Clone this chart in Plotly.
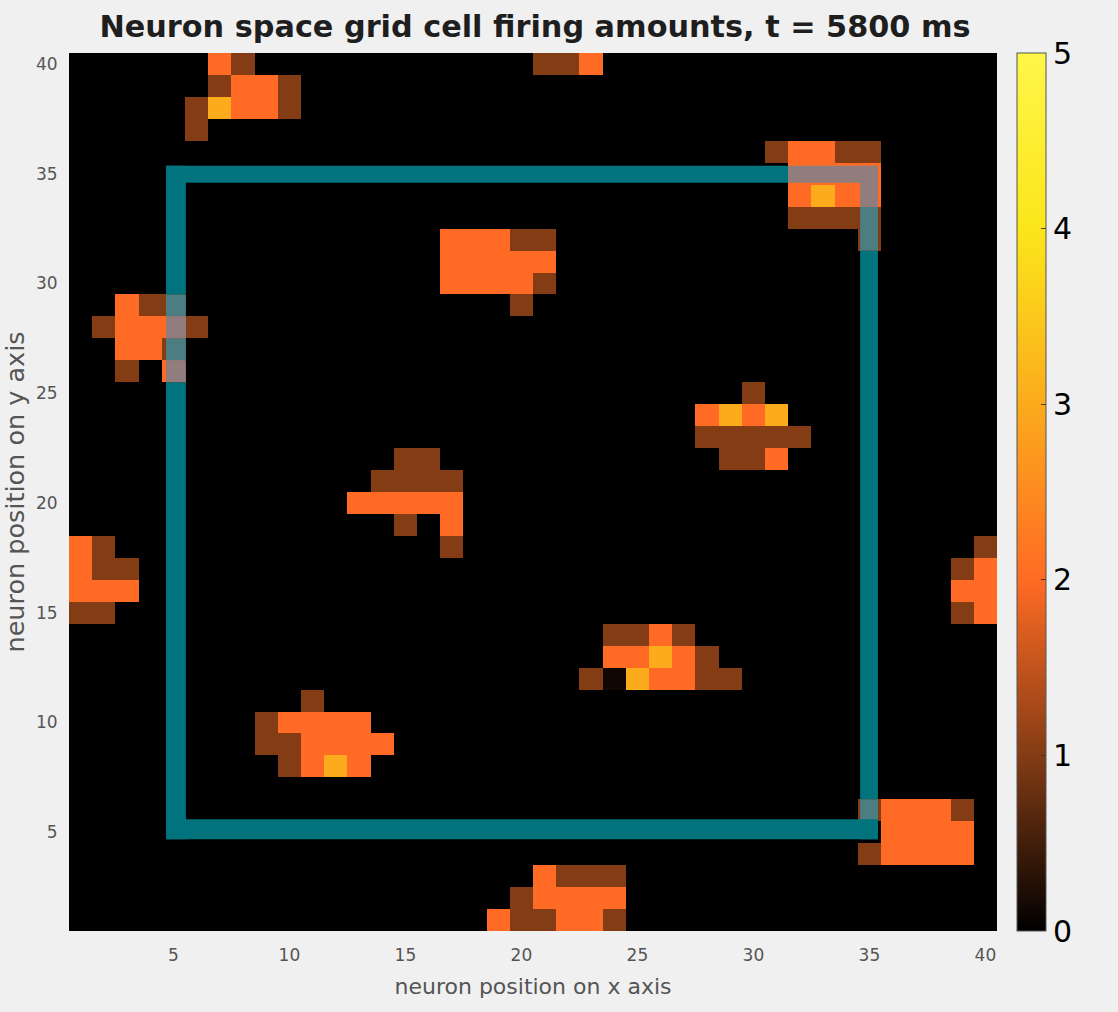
import numpy as np
import plotly.graph_objects as go

GRID_SIZE = 40
TITLE = "Neuron space grid cell firing amounts, t = 5800 ms"
X_TITLE = "neuron position on x axis"
Y_TITLE = "neuron position on y axis"
AXIS_TICKS = [5, 10, 15, 20, 25, 30, 35, 40]
COLORBAR_TICKS = [0, 1, 2, 3, 4, 5]

# Firing amount per grid cell, {y position: [x positions]}
FIRING_FAINT = {12: [24]}
FIRING_ONE = {
    40: [8, 21, 22], 39: [7, 10], 38: [6, 10], 37: [6], 36: [31, 34, 35],
    33: [32, 33, 34, 35], 32: [20, 21, 35], 30: [21], 29: [4, 5, 20],
    28: [2, 6], 27: [5], 26: [3], 25: [30], 23: [28, 29, 30, 31, 32],
    22: [15, 16, 29, 30], 21: [14, 15, 16, 17], 19: [15], 18: [2, 17, 40],
    17: [2, 3, 39], 15: [1, 2, 39], 14: [24, 25, 27], 13: [28],
    12: [23, 28, 29], 11: [11], 10: [9], 9: [9, 10], 8: [10], 6: [35, 39],
    4: [35], 3: [22, 23, 24], 2: [20], 1: [20, 21, 24],
}
FIRING_TWO = {
    40: [7, 23], 39: [8, 9], 38: [8, 9], 36: [32, 33], 35: [32, 33, 34, 35],
    34: [32, 34, 35], 32: [17, 18, 19], 31: [17, 18, 19, 20, 21],
    30: [17, 18, 19, 20], 29: [3], 28: [3, 4, 5], 27: [3, 4], 26: [5],
    24: [28, 30], 22: [31], 20: [13, 14, 15, 16, 17], 19: [17], 18: [1],
    17: [1, 40], 16: [1, 2, 3, 39, 40], 15: [40], 14: [26],
    13: [24, 25, 27], 12: [26, 27], 10: [10, 11, 12, 13],
    9: [11, 12, 13, 14], 8: [11, 13], 6: [36, 37, 38], 5: [36, 37, 38, 39],
    4: [36, 37, 38, 39], 3: [21], 2: [21, 22, 23, 24], 1: [19, 22, 23],
}
FIRING_THREE = {38: [7], 34: [33], 24: [29, 31], 13: [26], 12: [25], 8: [12]}

# Overlaid square: edges of its four bars, in neuron-position units
BOX_LEFT_BAR = (4.68, 5.54)
BOX_RIGHT_BAR = (34.60, 35.37)
BOX_BOTTOM_BAR = (4.68, 5.59)
BOX_TOP_BAR = (34.59, 35.36)

BG = "#f0f0f0"
TEAL_BY_VALUE = {0: "#00737d", 1: "#4b7d82", 2: "#917d7d", 3: "#917d7d"}
COLORSCALE = [
    [0.0, "#000000"], [0.2, "#843c15"], [0.4, "#ff6b24"],
    [0.6, "#fbab1c"], [0.8, "#fbe61a"], [1.0, "#fff64a"],
]

z = np.zeros((GRID_SIZE, GRID_SIZE))
for value, cells in ((0.12, FIRING_FAINT), (1, FIRING_ONE), (2, FIRING_TWO),
                     (3, FIRING_THREE)):
    for row, cols in cells.items():
        for col in cols:
            z[row - 1, col - 1] = value

positions = list(range(1, GRID_SIZE + 1))
W, H = 1118, 1012
L, R, T, B = 69, 997, 53, 931

fig = go.Figure(go.Heatmap(
    x=positions, y=positions, z=z, zmin=0, zmax=5, colorscale=COLORSCALE,
    hoverongaps=False,
    colorbar=dict(
        x=1017 / W, xanchor="left", xpad=0, y=(H - B) / H, yanchor="bottom",
        ypad=0, len=(B - T) / H, lenmode="fraction", thickness=29,
        thicknessmode="pixels", outlinecolor="#555555", outlinewidth=1,
        tickmode="array", tickvals=COLORBAR_TICKS, ticks="inside", ticklen=5,
        tickcolor="#5a3010", tickwidth=1,
        tickfont=dict(family="DejaVu Sans", size=30, color="#000000"),
    ),
))


def add_bar(x0, x1, y0, y1, vertical):
    """Draw one bar of the square, tinted by the cells that it crosses."""
    fixed = int(round((x0 + x1) / 2)) if vertical else int(round((y0 + y1) / 2))
    lo, hi = (y0, y1) if vertical else (x0, x1)
    start = lo
    current = None
    for cell in range(1, GRID_SIZE + 1):
        a, b = max(cell - 0.5, lo), min(cell + 0.5, hi)
        if a >= b:
            continue
        v = int(z[cell - 1, fixed - 1] if vertical else z[fixed - 1, cell - 1])
        if current is None:
            current, start = v, a
        elif v != current:
            emit(x0, x1, y0, y1, start, a, current, vertical)
            current, start = v, a
    emit(x0, x1, y0, y1, start, hi, current, vertical)


def emit(x0, x1, y0, y1, a, b, v, vertical):
    xs = (x0, x1) if vertical else (a, b)
    ys = (a, b) if vertical else (y0, y1)
    fig.add_shape(type="rect", x0=xs[0], x1=xs[1], y0=ys[0], y1=ys[1],
                  xref="x", yref="y", layer="above", line_width=0,
                  fillcolor=TEAL_BY_VALUE[v])


add_bar(*BOX_LEFT_BAR, BOX_BOTTOM_BAR[0], BOX_TOP_BAR[1], True)
add_bar(*BOX_RIGHT_BAR, BOX_BOTTOM_BAR[0], BOX_TOP_BAR[1], True)
add_bar(BOX_LEFT_BAR[0], BOX_RIGHT_BAR[1], *BOX_BOTTOM_BAR, False)
add_bar(BOX_LEFT_BAR[0], BOX_RIGHT_BAR[1], *BOX_TOP_BAR, False)

axis_common = dict(
    tickmode="array", tickvals=AXIS_TICKS, showgrid=False, zeroline=False,
    ticks="outside", tickcolor=BG, showline=False,
    tickfont=dict(family="DejaVu Sans", size=17, color="#555555"),
    range=[0.5, GRID_SIZE + 0.5],
)
fig.update_xaxes(
    domain=[L / W, R / W], anchor="y", ticklen=9,
    title=dict(text=X_TITLE, standoff=14,
               font=dict(family="DejaVu Sans", size=22, color="#555555")),
    **axis_common,
)
fig.update_yaxes(
    domain=[(H - B) / H, (H - T) / H], anchor="x", ticklen=7,
    title=dict(text=Y_TITLE, standoff=5,
               font=dict(family="DejaVu Sans", size=25.5, color="#555555")),
    **axis_common,
)
fig.update_layout(
    width=W, height=H, margin=dict(l=0, r=0, t=0, b=0),
    paper_bgcolor=BG, plot_bgcolor="#000000",
    title=dict(text=TITLE, x=535 / W, xanchor="center", y=1 - 26 / H,
               yanchor="middle",
               font=dict(family="DejaVu Sans", size=30.3, color="#1e1e1e",
                         weight="bold")),
    showlegend=False,
)
fig.write_html(
    "out.html",
    config={"displayModeBar": False},
    post_script="document.body.style.margin='0';"
                "document.body.style.background='%s';"
                "document.documentElement.style.overflow='hidden';" % BG,
)
